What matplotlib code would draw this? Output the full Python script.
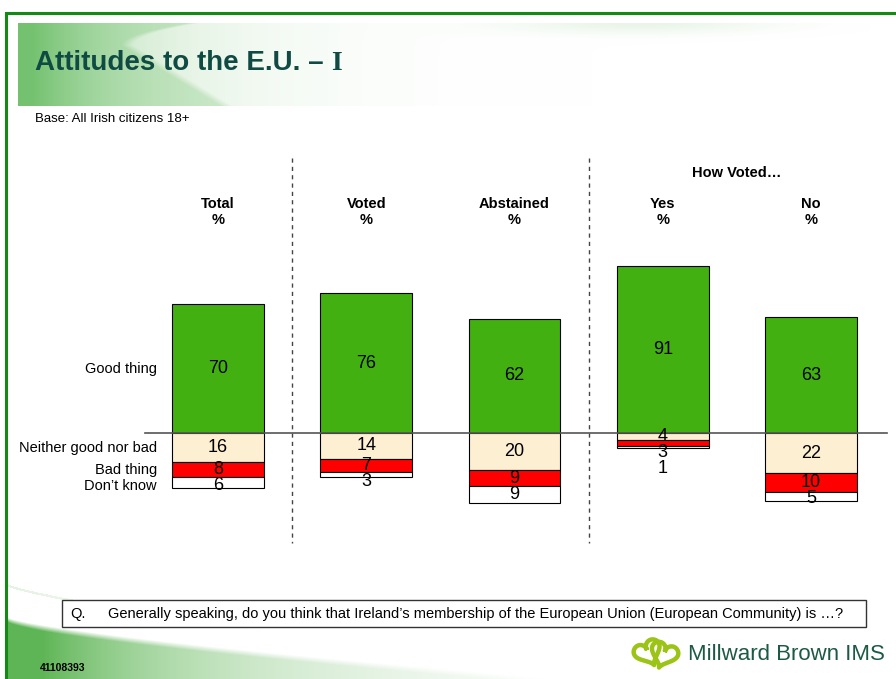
"""Attitudes to the E.U. - stacked split bars (good thing above, the rest below)."""
import matplotlib
matplotlib.use("Agg")
import matplotlib.pyplot as plt
import numpy as np
from matplotlib.patches import Rectangle

groups = ["Total", "Voted", "Abstained", "Yes", "No"]
good = [70, 76, 62, 91, 63]
neither = [16, 14, 20, 4, 22]
bad = [8, 7, 9, 3, 10]
dont_know = [6, 3, 9, 1, 5]
categories = ["Good thing", "Neither good nor bad", "Bad thing", "Don\u2019t know"]

GREEN = "#43b012"
CREAM = "#fdf0d2"
RED = "#ff0000"
FONT = ["Liberation Sans", "DejaVu Sans"]
plt.rcParams["font.family"] = FONT

W, H = 896, 679
# pixel layout of the chart area
X0, XSTEP = 218.0, 148.25      # centre of first bar, distance between bars
Y0, YSCALE = 433.0, 1.84       # baseline, pixels per percentage point


def dx(px):
    return (px - X0) / XSTEP


def dy(py):
    return (Y0 - py) / YSCALE


fig = plt.figure(figsize=(W / 100, H / 100), dpi=100)

# ---- decoration layer, in pixel coordinates ----
bg = fig.add_axes([0, 0, 1, 1])
bg.set_xlim(0, W)
bg.set_ylim(H, 0)
bg.axis("off")

# title banner gradient
bx0, bx1, by0, by1 = 18, 870, 23, 106
xx, yy = np.meshgrid(np.arange(bx0, bx1), np.arange(by0, by1))
edge = 133 + np.where(yy < 45, 64 * ((45 - yy) / 22.0) ** 2, (yy - 45) * 1.64)
soft_edge = np.clip((edge - xx) / 12.0, 0, 1)
alpha = 0.72 * np.exp(-(xx - bx0) / 110.0) + 0.22 * soft_edge
# faint arc along the top right of the banner
bump = np.exp(-((xx - 640) / 130.0) ** 2)
alpha = alpha + 0.13 * bump * np.exp(-((yy - by0) / 10.0) ** 2)
img = np.zeros(xx.shape + (4,))
img[..., 0], img[..., 1], img[..., 2] = 0.36, 0.72, 0.34
img[..., 3] = np.clip(alpha, 0, 0.85)
bg.imshow(img, extent=(bx0, bx1, by1, by0), aspect="auto", zorder=0,
          interpolation="bilinear")

# bottom-left swoosh
sx0, sx1, sy0, sy1 = 8, 580, 580, 679
xx, yy = np.meshgrid(np.arange(sx0, sx1), np.arange(sy0, sy1))
top = 617 + 62 * ((xx - sx0) / 560.0) ** 0.75
inside = np.clip((yy - top) / 6.0, 0, 1)
alpha = inside * (0.85 * np.exp(-(xx - sx0) / 140.0)
                  + 0.25 * np.clip(1 - (xx - sx0) / 560.0, 0, 1))
line = np.abs(yy - (585 + 45 * ((xx - sx0) / 250.0) ** 0.8)) < 1.2
alpha = alpha + 0.15 * line * np.clip(1 - (xx - sx0) / 260.0, 0, 1)
img = np.zeros(xx.shape + (4,))
img[..., 0], img[..., 1], img[..., 2] = 0.30, 0.68, 0.26
img[..., 3] = np.clip(alpha, 0, 0.9)
bg.imshow(img, extent=(sx0, sx1, sy1, sy0), aspect="auto", zorder=0,
          interpolation="bilinear")

# outer green frame
bg.plot([6, 6, W], [H, 13, 13], color="#138a13", lw=2.2, zorder=1,
        solid_joinstyle="miter")

# title
t1 = bg.text(35, 63, "Attitudes to the E.U. \u2013 ", fontsize=20,
             fontweight="bold", color="#0f4a43", va="center", ha="left")
bg.annotate("I", xy=(1, 0.5), xycoords=t1, va="center", ha="left",
            fontsize=20, fontweight="bold", color="#0f4a43",
            family=["Liberation Serif", "DejaVu Serif"])
bg.text(35, 119, "Base: All Irish citizens 18+", fontsize=9.5, va="center")

# question box
bg.add_patch(Rectangle((62, 600), 804, 27, facecolor="white",
                       edgecolor="#333333", lw=1, zorder=2))
bg.text(70, 614, "Q.", fontsize=10.5, va="center", zorder=3)
bg.text(108, 614, "Generally speaking, do you think that Ireland\u2019s membership "
        "of the European Union (European Community) is \u2026?",
        fontsize=10.5, va="center", zorder=3)

bg.text(40, 668, "41108393", fontsize=7.5, fontweight="bold", va="center")

# logo: two interlocked hearts + name
t = np.linspace(0, 2 * np.pi, 200)
hx = 16 * np.sin(t) ** 3
hy = 13 * np.cos(t) - 5 * np.cos(2 * t) - 2 * np.cos(3 * t) - np.cos(4 * t)
for cx, cy, ang in [(648, 652, 25), (664, 654, -20)]:
    a = np.radians(ang)
    rx = hx * np.cos(a) - hy * np.sin(a)
    ry = hx * np.sin(a) + hy * np.cos(a)
    bg.plot(cx + 0.85 * rx, cy - 0.85 * ry, color="#9cc417", lw=3.2, zorder=3)
bg.text(688, 655, "Millward Brown IMS", fontsize=16, color="#1d5a45",
        va="center", ha="left")

# ---- chart layer, in data coordinates ----
ax = fig.add_axes([0, 0, 1, 1])
ax.patch.set_alpha(0)
ax.axis("off")
ax.set_xlim(dx(0), dx(W))
ax.set_ylim(dy(H), dy(0))

x = np.arange(len(groups))
good_a = np.array(good, float)
nei_a = np.array(neither, float)
bad_a = np.array(bad, float)
dk_a = np.array(dont_know, float)
bw = 0.62
kw = dict(width=bw, edgecolor="black", linewidth=0.8, zorder=3)
ax.bar(x, good_a, color=GREEN, **kw)
ax.bar(x, -nei_a, color=CREAM, **kw)
ax.bar(x, -bad_a, bottom=-nei_a, color=RED, **kw)
ax.bar(x, -dk_a, bottom=-(nei_a + bad_a), color="white", **kw)

# baseline and group separators
ax.plot([dx(145), dx(887)], [0, 0], color="#555555", lw=1.2, zorder=4)
for sep in (0.5, 2.5):
    ax.plot([sep, sep], [dy(158), dy(543)], color="#444444", lw=1,
            linestyle=(0, (3, 3)), zorder=2)

# value labels; the negative stack labels are pushed apart so they don't clash
gap = 16 / YSCALE
label_y = []
for i in range(len(groups)):
    ax.text(x[i], good_a[i] / 2, f"{good[i]}", ha="center", va="center",
            fontsize=13, zorder=5)
    centres = [-nei_a[i] / 2, -(nei_a[i] + bad_a[i] / 2),
               -(nei_a[i] + bad_a[i] + dk_a[i] / 2)]
    vals = [neither[i], bad[i], dont_know[i]]
    ys, prev = [], None
    for c, v in zip(centres, vals):
        y = c if prev is None else min(c, prev - gap)
        ax.text(x[i], y, f"{v}", ha="center", va="center", fontsize=13,
                zorder=5)
        ys.append(y)
        prev = y
    label_y.append(ys)

# row labels lined up with the Total column
row_y = [good_a[0] / 2] + label_y[0]
for lab, y in zip(categories, row_y):
    ax.text(dx(157), y, lab, ha="right", va="center", fontsize=10.5)

# column headers
hdr = ax.get_xaxis_transform()
for i, g in enumerate(groups):
    ax.text(x[i], 1 - 212 / H, f"{g}\n%", transform=hdr, ha="center",
            va="center", fontsize=10.5, fontweight="bold", linespacing=1.2)
ax.text((x[3] + x[4]) / 2, 1 - 173 / H, "How Voted\u2026", transform=hdr,
        ha="center", va="center", fontsize=10.5, fontweight="bold")

fig.savefig("out.png", dpi=100)
